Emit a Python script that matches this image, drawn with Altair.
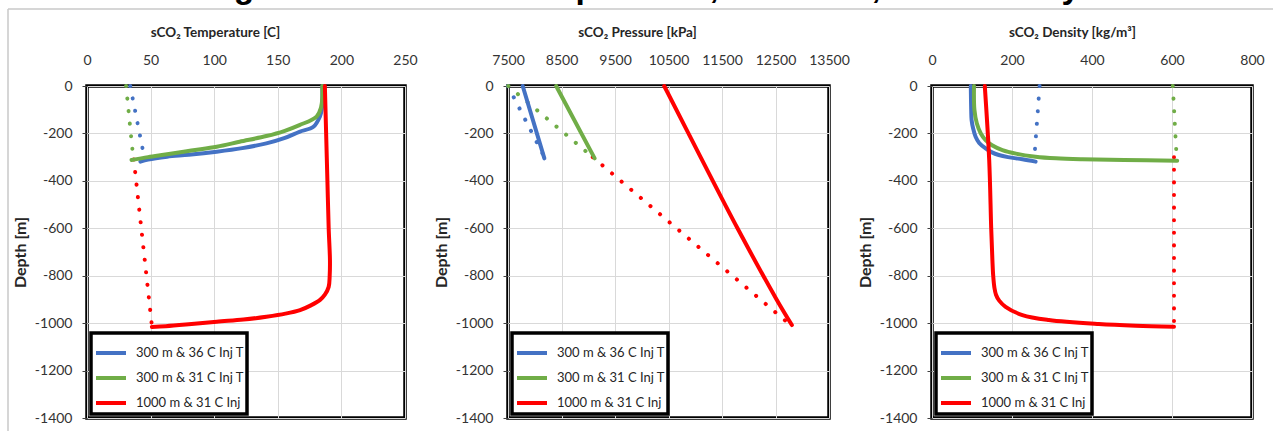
import altair as alt
import pandas as pd

SERIES = ["300 m & 36 C Inj T", "300 m & 31 C Inj T", "1000 m & 31 C Inj"]
COLORS = ["#4472C4", "#70AD47", "#FF0000"]
FIG_TITLE = "Figure 6 - Modeled Temperature, Pressure, and Density"

# ---------------- Temperature panel ----------------
T_BLUE_SOLID_D = [0, -60, -100, -130, -172, -193, -220, -242, -262, -277, -290, -298, -310, -319]
T_BLUE_SOLID_V = [185, 185, 184.5, 183, 178, 167, 155, 141, 122, 102, 80, 63, 48, 42]
T_GREEN_SOLID_D = [0, -50, -90, -129, -165, -190, -211, -235, -256, -272, -288, -300, -312]
T_GREEN_SOLID_V = [185, 185, 184, 180.5, 167, 155, 141, 120, 102, 82, 63, 48, 35]
T_RED_SOLID_D = [0, -200, -400, -600, -734, -800, -847, -880, -903, -925, -945, -960, -973, -985, -994, -1005, -1013, -1016]
T_RED_SOLID_V = [187, 188, 189, 190, 191, 190.8, 190, 187, 183, 176, 167.5, 156, 141, 123, 102, 80, 62, 51]
T_BLUE_DOT_D = [0, -300]
T_BLUE_DOT_V = [34, 45]
T_GREEN_DOT_D = [0, -310]
T_GREEN_DOT_V = [30.7, 36.5]
T_RED_DOT_D = [-310, -1015]
T_RED_DOT_V = [36.8, 51.1]

# ---------------- Pressure panel ----------------
P_BLUE_SOLID_D = [0, -305]
P_BLUE_SOLID_V = [7775, 8180]
P_GREEN_SOLID_D = [0, -305]
P_GREEN_SOLID_V = [8400, 9120]
P_RED_SOLID_D = [0, -300, -600, -900, -1008]
P_RED_SOLID_V = [10420, 11100, 11790, 12520, 12806]
P_BLUE_DOT_D = [0, -300]
P_BLUE_DOT_V = [7500, 8180]
P_GREEN_DOT_D = [0, -300]
P_GREEN_DOT_V = [7505, 9085]
P_RED_DOT_D = [-300, -1008]
P_RED_DOT_V = [9085, 12780]

# ---------------- Density panel ----------------
D_BLUE_SOLID_D = [0, -100, -143, -180, -214, -240, -263, -280, -291, -300, -309, -319]
D_BLUE_SOLID_V = [97, 98, 99, 103, 109, 118, 134, 150, 167, 190, 226, 259]
D_GREEN_SOLID_D = [0, -100, -157, -200, -228, -250, -270, -285, -298, -305, -309, -312, -315]
D_GREEN_SOLID_V = [105, 106, 112, 122, 134, 150, 176, 210, 259, 310, 376, 480, 613]
D_RED_SOLID_D = [0, -312, -600, -734, -800, -850, -880, -905, -931, -966, -987, -1004, -1011, -1015]
D_RED_SOLID_V = [132, 143, 148, 151, 153, 156, 160, 168, 184, 226, 292, 417, 509, 605]
D_BLUE_DOT_D = [0, -300]
D_BLUE_DOT_V = [269, 256]
D_GREEN_DOT_D = [0, -315]
D_GREEN_DOT_V = [602, 612]
D_RED_DOT_D = [-300, -1015]
D_RED_DOT_V = [605, 605]

Y_TICKS = [-1400, -1200, -1000, -800, -600, -400, -200, 0]
T_TICKS = [0, 50, 100, 150, 200, 250]
P_TICKS = [7500, 8500, 9500, 10500, 11500, 12500, 13500]
D_TICKS = [0, 200, 400, 600, 800]


def make_df(parts):
    rows = []
    for series, style, depths, vals in parts:
        for i, (d, v) in enumerate(zip(depths, vals)):
            rows.append({"series": series, "style": style, "depth": d, "value": v, "idx": i})
    return pd.DataFrame(rows)


def panel(parts, xdomain, xticks, xtitle, title_x, width, deco=False):
    df = make_df(parts)
    base = alt.Chart(df)
    x = alt.X(
        "value:Q",
        scale=alt.Scale(domain=xdomain, nice=False, zero=False),
        axis=alt.Axis(orient="top", values=xticks, title=xtitle, titleX=title_x,
                      labelExpr="'' + datum.value", ticks=False, tickSize=0, domain=False,
                      labelOverlap=False, labelFlush=False, labelPadding=19, titlePadding=14,
                      titleFontSize=13.5),
    )
    y = alt.Y(
        "depth:Q",
        scale=alt.Scale(domain=[-1400, 0], nice=False),
        axis=alt.Axis(values=Y_TICKS, title="Depth [m]", labelExpr="'' + datum.value",
                      labelOverlap=False, labelFlush=False, tickSize=5, labelPadding=10,
                      titlePadding=6, domain=False, titleFontSize=16),
    )
    cscale = alt.Scale(domain=SERIES, range=COLORS)
    dotted_layers = []
    for name, col in zip(SERIES, COLORS):
        dotted_layers.append(
            base.transform_filter(
                f"datum.style == 'dot' && datum.series == '{name}'"
            ).mark_line(strokeDash=[0.1, 12.5], strokeCap="round", strokeWidth=4, color=col)
            .encode(x=x, y=y, order="idx:Q")
        )
    solid = base.transform_filter("datum.style == 'solid'").mark_line(
        strokeWidth=4, strokeCap="round", strokeJoin="round", interpolate="catmull-rom"
    ).encode(
        x=x, y=y,
        color=alt.Color("series:N", scale=cscale,
                        legend=alt.Legend(title=None, orient="bottom-left", offset=4)),
        order="idx:Q",
    )
    layers = dotted_layers + [solid]
    if deco:
        tdf = pd.DataFrame({"t": [FIG_TITLE]})
        frame_h = alt.Chart(tdf).mark_rule(color="#c8c8c8", strokeWidth=1.5).encode(
            x=alt.value(-79), x2=alt.value(1200), y=alt.value(-77))
        frame_v = alt.Chart(tdf).mark_rule(color="#c8c8c8", strokeWidth=1.5).encode(
            x=alt.value(-79), y=alt.value(-77), y2=alt.value(360))
        ttl = alt.Chart(tdf).mark_text(font="Liberation Sans", fontWeight="bold", fontSize=33.5,
                                       baseline="alphabetic", align="center", color="black").encode(
            x=alt.value(555), y=alt.value(-88), text="t:N")
        layers = [frame_h, frame_v, ttl] + layers
    return alt.layer(*layers).properties(width=width, height=332)


p1 = panel([
    (SERIES[0], "dot", T_BLUE_DOT_D, T_BLUE_DOT_V),
    (SERIES[1], "dot", T_GREEN_DOT_D, T_GREEN_DOT_V),
    (SERIES[2], "dot", T_RED_DOT_D, T_RED_DOT_V),
    (SERIES[0], "solid", T_BLUE_SOLID_D, T_BLUE_SOLID_V),
    (SERIES[1], "solid", T_GREEN_SOLID_D, T_GREEN_SOLID_V),
    (SERIES[2], "solid", T_RED_SOLID_D, T_RED_SOLID_V),
], [0, 250], T_TICKS, "sCO₂ Temperature [C]", 128, 318, deco=True)

p2 = panel([
    (SERIES[0], "dot", P_BLUE_DOT_D, P_BLUE_DOT_V),
    (SERIES[1], "dot", P_GREEN_DOT_D, P_GREEN_DOT_V),
    (SERIES[2], "dot", P_RED_DOT_D, P_RED_DOT_V),
    (SERIES[0], "solid", P_BLUE_SOLID_D, P_BLUE_SOLID_V),
    (SERIES[1], "solid", P_GREEN_SOLID_D, P_GREEN_SOLID_V),
    (SERIES[2], "solid", P_RED_SOLID_D, P_RED_SOLID_V),
], [7500, 13500], P_TICKS, "sCO₂ Pressure [kPa]", 129, 321)

p3 = panel([
    (SERIES[0], "dot", D_BLUE_DOT_D, D_BLUE_DOT_V),
    (SERIES[1], "dot", D_GREEN_DOT_D, D_GREEN_DOT_V),
    (SERIES[2], "dot", D_RED_DOT_D, D_RED_DOT_V),
    (SERIES[0], "solid", D_BLUE_SOLID_D, D_BLUE_SOLID_V),
    (SERIES[1], "solid", D_GREEN_SOLID_D, D_GREEN_SOLID_V),
    (SERIES[2], "solid", D_RED_SOLID_D, D_RED_SOLID_V),
], [0, 800], D_TICKS, "sCO₂ Density [kg/m³]", 140, 320)

chart = alt.hconcat(p1, p2, p3, spacing=103, bounds="flush").resolve_scale(
    color="independent"
).resolve_legend(color="independent").properties(
    autosize=alt.AutoSizeParams(type="none"),
    padding={"left": 87, "top": 86, "right": 1186, "bottom": 345},
    background="white",
).configure_view(
    stroke="black", strokeWidth=3.5
).configure_axis(
    labelFont="Lato", labelFontSize=14, labelColor="#333333",
    titleFont="Lato", titleFontWeight="bold", titleColor="#262626",
    gridColor="#d9d9d9", gridWidth=1, tickColor="#404040",
).configure_legend(
    strokeColor="black", strokeWidth=3.5, fillColor="white", padding=3, rowPadding=-2.5,
    symbolType="stroke", symbolSize=900, symbolStrokeWidth=4,
    labelFont="Lato", labelFontSize=13, labelColor="#262626", labelOffset=8,
)

chart.save("out.html", embed_options={"renderer": "svg", "actions": False})
